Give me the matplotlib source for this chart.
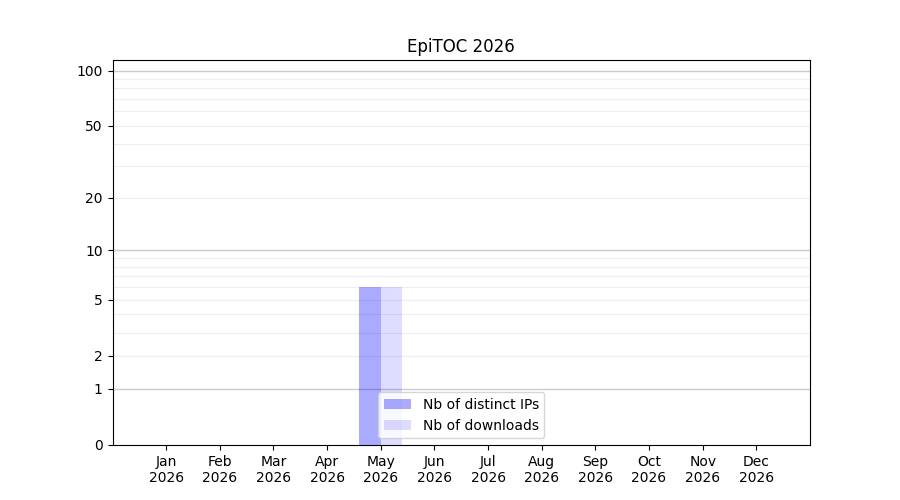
import numpy as np
import matplotlib
matplotlib.use("Agg")
import matplotlib.pyplot as plt

months = ["Jan", "Feb", "Mar", "Apr", "May", "Jun", "Jul", "Aug", "Sep", "Oct", "Nov", "Dec"]
year = "2026"
distinct_ips = [0, 0, 0, 0, 6, 0, 0, 0, 0, 0, 0, 0]
downloads = [0, 0, 0, 0, 6, 0, 0, 0, 0, 0, 0, 0]
ytick_values = [0, 1, 2, 5, 10, 20, 50, 100]
title = "EpiTOC 2026"

fig, ax = plt.subplots(figsize=(9, 5), dpi=100)

fwd = lambda v: np.log10(1 + np.asarray(v, dtype=float))
inv = lambda v: 10 ** np.asarray(v, dtype=float) - 1
ax.set_yscale("function", functions=(fwd, inv))

x = np.arange(len(months))
ax.bar(x - 0.2, distinct_ips, width=0.4, color="blue", alpha=1/3, label="Nb of distinct IPs", zorder=2)
ax.bar(x + 0.2, downloads, width=0.4, color="blue", alpha=0.133, label="Nb of downloads", zorder=2)

# grid
minor = [v for d in (1, 10) for v in range(d, 10 * d + 1, d)]
for v in minor:
    ax.axhline(v, color="#eeeeee", lw=0.8, zorder=0)
for v in (1, 10, 100):
    ax.axhline(v, color="#cccccc", lw=1.0, zorder=1)

ax.set_yticks(ytick_values)
ax.set_yticklabels([str(v) for v in ytick_values])
ax.yaxis.set_minor_locator(matplotlib.ticker.NullLocator())
ax.set_ylim(0, 114)

ax.set_xticks(x)
ax.set_xticklabels([f"{m}\n{year}" for m in months])
ax.set_xlim(-1, 12)

ax.set_title(title)
ax.legend(loc="lower center")

fig.savefig("out.png", dpi=100)
